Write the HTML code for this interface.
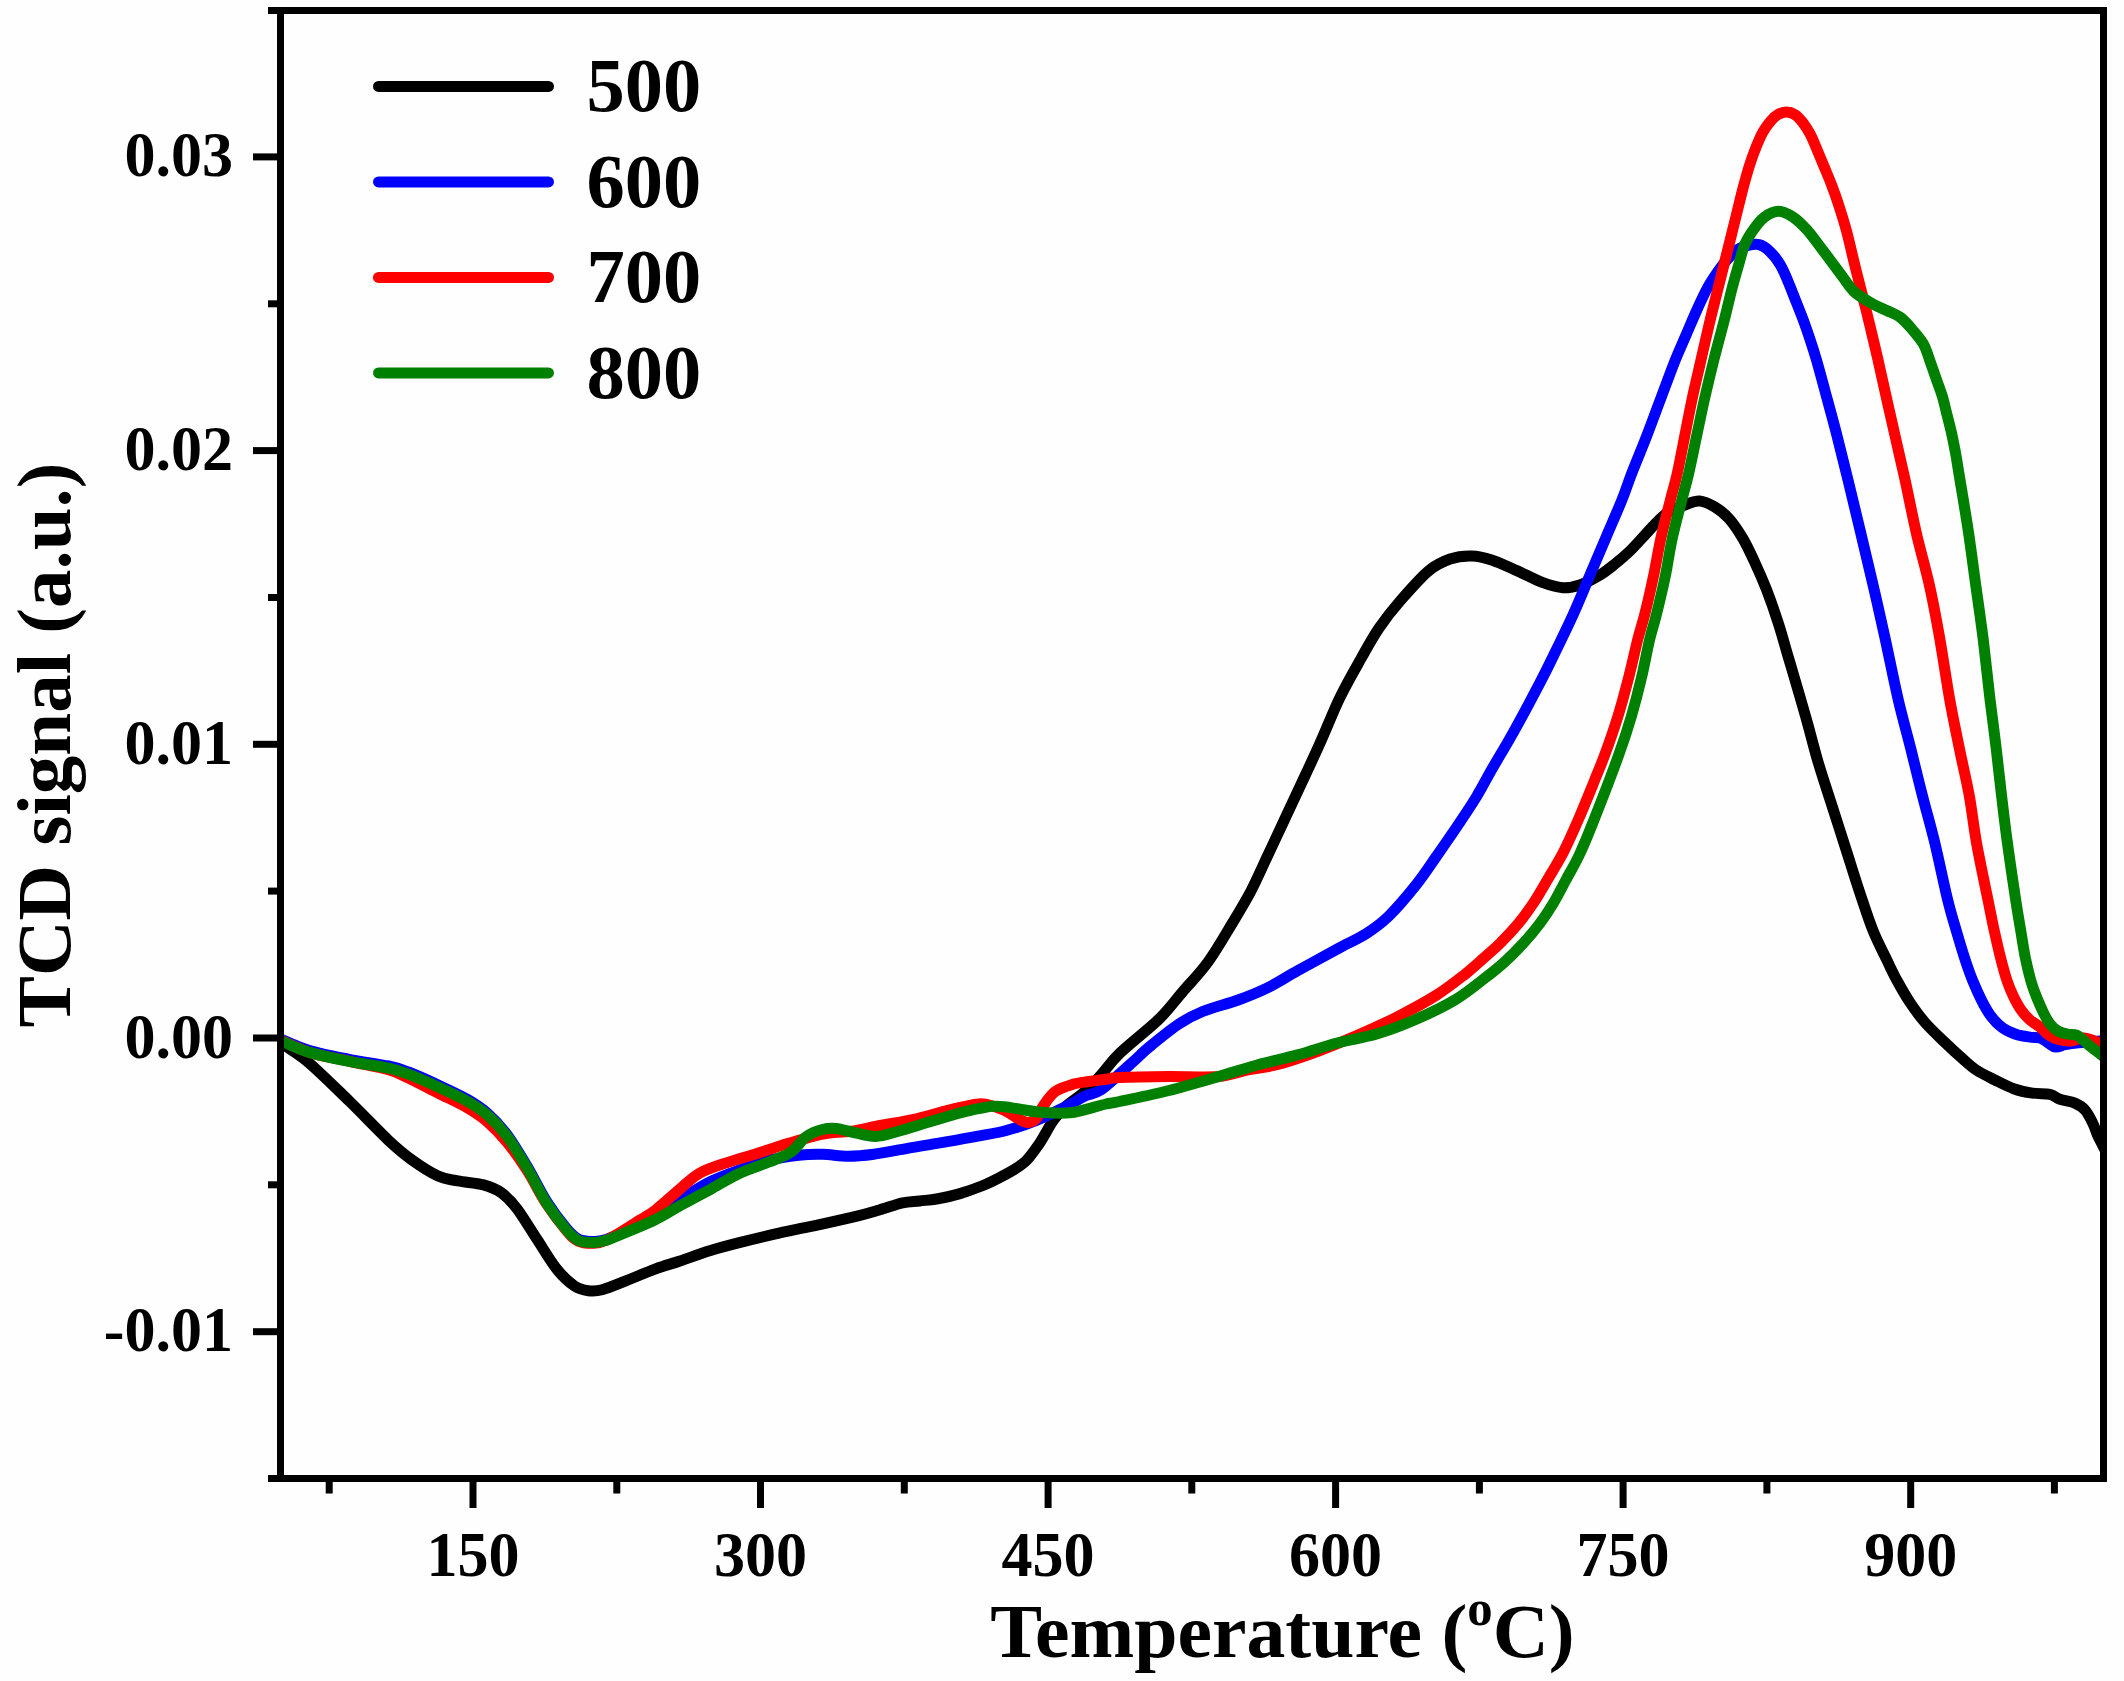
<!DOCTYPE html>
<html><head><meta charset="utf-8"><title>TCD signal</title>
<style>
html,body{margin:0;padding:0;background:#fefefe;}
body{width:2124px;height:1681px;overflow:hidden;}
svg{display:block;}
text{font-family:"Liberation Serif","Times New Roman",serif;font-weight:bold;fill:#000;}
</style></head><body>
<svg width="2124" height="1681" viewBox="0 0 2124 1681">
<rect width="2124" height="1681" fill="#fefefe"/>
<defs><clipPath id="c"><rect x="280.5" y="10.5" width="1823.0" height="1468.0"/></clipPath></defs>
<g clip-path="url(#c)" fill="none" stroke-width="11" stroke-linejoin="round" stroke-linecap="butt">
<path d="M280.5 1041.0C281.2 1041.8 280.0 1041.8 284.8 1045.5C289.6 1049.2 298.8 1054.1 309.5 1063.3C320.2 1072.5 335.9 1088.1 349.1 1100.9C362.3 1113.8 378.1 1130.5 388.6 1140.4C399.2 1150.3 404.1 1154.3 412.4 1160.2C420.6 1166.1 430.5 1172.5 438.1 1176.0C445.7 1179.5 450.3 1179.4 457.9 1180.9C465.5 1182.4 476.4 1182.9 483.6 1184.9C490.9 1186.9 495.8 1188.8 501.4 1192.8C507.0 1196.8 511.3 1201.2 517.2 1209.0C523.1 1216.8 530.4 1229.3 537.0 1239.3C543.6 1249.3 550.5 1261.2 556.7 1269.0C563.0 1276.8 569.2 1282.4 574.5 1286.0C579.8 1289.6 583.8 1290.1 588.4 1290.7C593.0 1291.3 596.0 1291.4 602.2 1289.7C608.5 1288.0 617.0 1284.3 625.9 1280.8C634.8 1277.3 646.6 1272.2 655.6 1268.9C664.6 1265.6 671.0 1264.0 680.0 1261.0C689.0 1258.0 699.8 1253.8 709.7 1250.8C719.6 1247.8 727.8 1245.6 739.3 1242.7C750.8 1239.8 765.7 1236.2 778.9 1233.2C792.1 1230.2 805.2 1227.7 818.4 1224.8C831.6 1221.9 847.7 1218.3 858.0 1215.8C868.3 1213.3 872.6 1211.8 880.0 1209.7C887.4 1207.6 896.0 1204.4 902.6 1202.9C909.2 1201.5 913.9 1201.7 919.5 1201.0C925.1 1200.3 929.9 1200.2 936.5 1199.0C943.1 1197.8 951.6 1196.1 959.1 1193.9C966.6 1191.7 975.1 1188.6 981.7 1186.0C988.3 1183.4 993.0 1181.0 998.6 1178.1C1004.2 1175.2 1010.9 1171.7 1015.6 1168.7C1020.3 1165.7 1023.1 1163.9 1026.9 1160.0C1030.7 1156.1 1035.0 1149.9 1038.2 1145.3C1041.4 1140.7 1043.5 1136.6 1046.1 1132.3C1048.7 1128.0 1050.6 1123.7 1054.0 1119.3C1057.4 1114.9 1061.5 1110.2 1066.4 1105.8C1071.3 1101.4 1077.8 1097.8 1083.4 1092.8C1089.1 1087.8 1094.3 1082.3 1100.3 1075.8C1106.3 1069.2 1109.7 1063.0 1119.5 1053.5C1129.3 1044.0 1148.5 1029.3 1159.1 1019.0C1169.6 1008.7 1174.6 1001.1 1182.8 991.6C1191.0 982.1 1199.8 973.4 1208.1 961.9C1216.4 950.4 1225.6 934.3 1232.8 922.4C1240.0 910.5 1245.2 901.9 1251.1 890.7C1256.9 879.5 1262.3 867.0 1267.9 855.1C1273.5 843.2 1276.1 837.7 1284.5 819.6C1292.9 801.5 1309.2 767.2 1318.4 746.8C1327.7 726.4 1332.8 712.2 1340.0 697.4C1347.2 682.6 1354.9 669.4 1361.4 657.9C1367.9 646.4 1372.5 637.8 1379.0 628.2C1385.5 618.6 1392.2 610.0 1400.5 600.5C1408.8 591.0 1420.2 577.8 1428.5 570.9C1436.8 564.0 1442.9 561.5 1450.1 559.0C1457.3 556.5 1464.9 555.8 1471.8 556.0C1478.7 556.2 1484.0 557.5 1491.6 560.0C1499.2 562.5 1508.7 567.1 1517.3 570.9C1525.9 574.7 1535.4 579.9 1543.0 582.7C1550.6 585.5 1556.5 587.4 1562.8 587.7C1569.1 588.0 1574.3 586.9 1580.6 584.7C1586.8 582.6 1594.5 578.3 1600.3 574.8C1606.1 571.3 1610.3 567.7 1615.2 563.8C1620.1 559.9 1624.7 556.0 1629.5 551.4C1634.3 546.8 1639.5 540.8 1643.8 536.2C1648.1 531.6 1651.2 527.8 1655.2 523.8C1659.2 519.8 1662.9 515.7 1668.0 512.5C1673.1 509.3 1680.8 506.4 1686.0 504.5C1691.2 502.6 1694.8 500.6 1699.5 501.0C1704.2 501.4 1709.6 503.9 1714.5 506.8C1719.4 509.7 1724.3 513.3 1729.0 518.6C1733.7 523.9 1738.5 531.1 1742.8 538.4C1747.1 545.7 1750.7 553.6 1754.7 562.2C1758.7 570.8 1762.6 579.6 1766.6 589.8C1770.5 600.0 1774.8 612.3 1778.4 623.5C1782.0 634.7 1785.0 645.9 1788.3 657.1C1791.6 668.3 1794.9 679.4 1798.2 690.7C1801.5 702.0 1804.7 713.0 1808.0 725.0C1811.3 737.0 1814.3 749.3 1818.3 762.8C1822.3 776.2 1827.4 791.4 1832.0 805.7C1836.6 820.0 1841.1 834.2 1845.7 848.5C1850.3 862.8 1854.8 877.7 1859.4 891.4C1864.0 905.1 1868.5 919.4 1873.1 930.8C1877.7 942.2 1882.8 951.6 1886.8 959.9C1890.8 968.2 1893.1 973.4 1897.0 980.5C1900.9 987.6 1905.3 995.5 1910.0 1002.5C1914.7 1009.5 1919.2 1015.8 1925.0 1022.5C1930.8 1029.2 1938.8 1036.5 1945.0 1042.5C1951.2 1048.5 1957.3 1054.1 1962.5 1058.7C1967.7 1063.3 1970.8 1066.5 1976.2 1070.0C1981.6 1073.5 1988.8 1076.9 1995.0 1080.0C2001.2 1083.1 2007.5 1086.5 2013.7 1088.7C2019.9 1090.9 2026.4 1092.2 2032.4 1093.1C2038.4 1094.0 2045.3 1093.3 2049.9 1094.3C2054.5 1095.3 2055.7 1097.8 2059.9 1099.3C2064.1 1100.8 2070.7 1101.3 2074.9 1103.1C2079.1 1104.9 2082.0 1106.7 2084.9 1109.9C2087.8 1113.1 2090.3 1118.2 2092.4 1122.4C2094.5 1126.6 2096.0 1131.6 2097.4 1134.9C2098.8 1138.2 2099.1 1138.2 2101.0 1142.0C2102.9 1145.8 2107.7 1155.1 2109.0 1157.8" stroke="#000000"/>
<path d="M280.5 1039.0C285.3 1040.9 298.1 1047.1 309.5 1050.5C320.9 1053.9 335.9 1056.7 349.1 1059.3C362.3 1061.9 378.7 1063.9 388.6 1066.0C398.5 1068.1 400.1 1068.8 408.4 1072.0C416.6 1075.2 428.2 1080.4 438.1 1085.0C448.0 1089.6 459.5 1094.8 467.7 1099.5C475.9 1104.2 480.9 1107.4 487.5 1113.3C494.1 1119.2 500.7 1126.2 507.3 1135.0C513.9 1143.8 520.5 1155.3 527.1 1166.4C533.7 1177.5 540.2 1191.4 546.8 1201.8C553.4 1212.2 561.3 1222.4 566.6 1228.6C571.9 1234.8 573.9 1237.0 578.5 1239.2C583.1 1241.4 589.7 1241.5 594.3 1241.5C598.9 1241.5 600.9 1241.2 606.2 1239.5C611.5 1237.8 617.7 1234.9 625.9 1231.0C634.1 1227.1 646.6 1221.2 655.6 1216.0C664.6 1210.8 671.0 1205.4 680.0 1199.7C689.0 1194.0 699.8 1186.9 709.7 1181.9C719.6 1177.0 729.4 1173.6 739.3 1170.0C749.2 1166.4 759.1 1162.7 769.0 1160.2C778.9 1157.7 789.7 1156.2 798.6 1155.2C807.5 1154.2 814.1 1154.0 822.4 1154.2C830.6 1154.4 839.5 1156.2 848.1 1156.2C856.7 1156.2 863.9 1155.5 873.8 1154.2C883.7 1152.9 896.8 1150.1 907.4 1148.3C918.0 1146.5 925.6 1145.4 937.1 1143.4C948.6 1141.4 965.1 1138.6 976.6 1136.4C988.1 1134.2 996.4 1133.1 1006.3 1130.5C1016.2 1127.9 1026.0 1124.5 1035.9 1120.6C1045.8 1116.6 1057.3 1110.9 1065.6 1106.8C1073.8 1102.7 1079.7 1098.6 1085.4 1095.9C1091.1 1093.2 1094.3 1094.2 1100.0 1090.5C1105.7 1086.8 1113.7 1079.1 1119.5 1074.0C1125.3 1068.9 1130.0 1064.5 1135.0 1060.0C1140.0 1055.5 1141.9 1053.0 1149.2 1047.0C1156.5 1041.0 1170.0 1029.9 1178.9 1024.0C1187.8 1018.1 1192.7 1015.5 1202.6 1011.5C1212.5 1007.5 1227.3 1004.0 1238.2 1000.0C1249.1 996.0 1258.0 992.5 1267.9 987.6C1277.8 982.7 1286.0 977.2 1297.5 970.8C1309.0 964.4 1325.6 955.4 1337.1 949.1C1348.6 942.9 1358.1 938.8 1366.7 933.3C1375.3 927.8 1380.2 924.5 1388.5 916.4C1396.8 908.3 1408.3 894.7 1416.2 884.8C1424.1 874.9 1429.4 866.5 1436.0 857.0C1442.6 847.5 1449.3 837.9 1456.0 828.0C1462.7 818.1 1470.0 807.3 1476.0 797.5C1482.0 787.7 1486.6 778.4 1492.0 769.0C1497.4 759.6 1503.8 749.2 1508.5 740.9C1513.2 732.6 1515.3 728.8 1520.5 719.3C1525.7 709.8 1534.3 693.5 1539.5 683.6C1544.7 673.7 1545.8 671.6 1551.4 660.0C1557.0 648.4 1567.0 628.2 1573.3 614.2C1579.6 600.2 1584.1 588.9 1589.5 576.2C1594.9 563.5 1600.3 550.8 1605.7 538.1C1611.1 525.4 1617.6 510.6 1621.9 500.0C1626.2 489.4 1627.3 484.8 1631.4 474.2C1635.5 463.6 1641.7 448.9 1646.6 436.2C1651.5 423.5 1656.1 410.8 1660.9 398.1C1665.7 385.4 1671.2 370.3 1675.3 360.0C1679.4 349.7 1681.9 344.6 1685.5 336.3C1689.1 328.0 1693.1 318.2 1696.8 310.1C1700.5 302.0 1704.0 294.2 1707.5 287.9C1711.0 281.6 1714.3 276.8 1717.5 272.2C1720.7 267.6 1723.2 264.1 1726.4 260.4C1729.6 256.7 1733.2 252.4 1736.8 249.9C1740.4 247.4 1744.3 246.4 1748.0 245.5C1751.7 244.6 1755.5 243.8 1759.1 244.7C1762.7 245.6 1766.1 247.9 1769.6 251.2C1773.1 254.5 1776.9 259.3 1780.0 264.3C1783.1 269.3 1785.5 275.4 1788.0 281.3C1790.5 287.2 1792.7 293.1 1795.3 299.7C1797.9 306.2 1801.0 313.9 1803.5 320.6C1806.0 327.4 1808.1 333.6 1810.3 340.2C1812.5 346.8 1813.8 350.7 1816.5 360.0C1819.2 369.3 1823.1 383.8 1826.4 396.2C1829.8 408.6 1833.0 420.2 1836.6 434.2C1840.2 448.2 1844.0 463.6 1848.0 480.0C1852.0 496.4 1856.4 514.9 1860.6 532.4C1864.8 549.9 1869.0 567.3 1873.0 584.7C1877.0 602.1 1880.6 617.8 1884.8 637.0C1889.0 656.2 1894.0 681.6 1898.3 700.0C1902.6 718.4 1906.5 731.7 1910.5 747.6C1914.5 763.5 1918.2 779.3 1922.3 795.2C1926.3 811.1 1930.6 825.3 1934.8 842.8C1939.0 860.3 1944.2 885.7 1947.7 900.0C1951.2 914.3 1952.9 919.1 1955.7 928.6C1958.5 938.1 1961.5 948.4 1964.3 957.1C1967.1 965.8 1969.9 973.8 1972.8 980.9C1975.7 988.0 1978.4 994.1 1981.4 1000.0C1984.4 1005.9 1987.4 1011.5 1990.9 1016.1C1994.4 1020.7 1998.2 1024.6 2002.3 1027.6C2006.4 1030.6 2011.1 1032.6 2015.7 1034.2C2020.3 1035.8 2025.9 1036.5 2030.0 1037.1C2034.1 1037.7 2037.4 1037.0 2040.4 1038.0C2043.4 1039.0 2045.5 1041.3 2048.0 1042.8C2050.6 1044.3 2052.8 1046.8 2055.7 1047.1C2058.6 1047.4 2061.4 1045.4 2065.2 1044.7C2069.0 1044.0 2072.5 1043.4 2078.5 1042.8C2084.5 1042.2 2095.9 1041.3 2101.0 1040.9C2106.1 1040.5 2107.7 1040.3 2109.0 1040.2" stroke="#0000ff"/>
<path d="M280.5 1040.0C285.3 1042.1 298.1 1048.9 309.5 1052.4C320.9 1056.0 335.9 1058.4 349.1 1061.3C362.3 1064.2 378.7 1067.0 388.6 1069.8C398.5 1072.6 400.1 1074.1 408.4 1078.0C416.6 1081.9 428.2 1088.0 438.1 1093.0C448.0 1098.0 459.5 1103.2 467.7 1108.0C475.9 1112.8 480.9 1116.0 487.5 1121.8C494.1 1127.5 500.7 1134.4 507.3 1142.5C513.9 1150.6 520.5 1160.1 527.1 1170.4C533.7 1180.7 540.2 1194.3 546.8 1204.3C553.4 1214.3 561.3 1224.4 566.6 1230.6C571.9 1236.8 573.9 1239.1 578.5 1241.2C583.1 1243.3 589.7 1243.4 594.3 1243.2C598.9 1243.0 600.9 1242.7 606.2 1240.3C611.5 1237.9 620.3 1232.4 625.9 1229.0C631.5 1225.6 635.0 1223.2 640.0 1220.0C645.0 1216.8 648.9 1215.2 655.6 1210.0C662.3 1204.8 672.6 1195.2 680.0 1189.0C687.4 1182.8 691.9 1177.5 700.0 1173.0C708.1 1168.5 719.1 1165.3 728.6 1162.1C738.1 1158.8 747.6 1156.5 757.1 1153.5C766.6 1150.5 778.6 1146.2 785.7 1144.0C792.9 1141.8 794.6 1141.5 800.0 1140.0C805.4 1138.5 812.3 1136.2 818.0 1135.0C823.7 1133.8 828.0 1133.3 834.0 1132.6C840.0 1131.9 846.7 1132.1 854.0 1131.0C861.3 1129.9 867.7 1128.0 877.7 1126.0C887.7 1124.0 902.2 1121.9 913.9 1119.3C925.6 1116.7 937.4 1112.8 947.8 1110.3C958.1 1107.8 969.4 1105.0 976.0 1104.1C982.6 1103.1 982.6 1103.6 987.3 1104.6C992.0 1105.6 999.6 1108.2 1004.3 1110.3C1009.0 1112.4 1011.8 1115.1 1015.6 1117.1C1019.4 1119.1 1023.5 1122.1 1026.9 1122.4C1030.3 1122.7 1033.2 1121.9 1036.0 1119.0C1038.8 1116.1 1040.6 1109.8 1043.8 1105.2C1047.0 1100.6 1050.4 1095.0 1055.1 1091.6C1059.8 1088.1 1066.4 1086.2 1072.1 1084.5C1077.8 1082.8 1083.3 1082.4 1089.0 1081.5C1094.7 1080.6 1100.9 1079.9 1106.0 1079.2C1111.1 1078.5 1109.0 1078.0 1119.5 1077.6C1130.0 1077.2 1152.5 1076.8 1169.0 1076.6C1185.5 1076.4 1205.2 1077.7 1218.4 1076.6C1231.6 1075.5 1238.1 1071.8 1248.0 1069.8C1257.9 1067.8 1266.2 1067.5 1277.7 1064.5C1289.2 1061.5 1304.1 1056.3 1317.3 1051.5C1330.5 1046.7 1343.6 1041.2 1356.8 1035.5C1370.0 1029.8 1383.2 1024.0 1396.4 1017.3C1409.6 1010.6 1424.4 1002.8 1435.9 995.5C1447.4 988.2 1458.0 979.7 1465.6 973.8C1473.2 967.9 1475.7 965.2 1481.4 960.1C1487.1 955.0 1493.8 949.4 1500.0 943.3C1506.2 937.2 1513.0 930.0 1518.6 923.3C1524.1 916.6 1528.5 910.5 1533.3 903.3C1538.1 896.1 1542.3 888.5 1547.3 880.0C1552.3 871.5 1558.2 862.3 1563.5 852.0C1568.8 841.7 1573.8 830.1 1579.0 818.1C1584.2 806.1 1590.4 790.6 1594.7 780.0C1599.0 769.4 1601.1 764.8 1605.0 754.2C1608.9 743.6 1614.1 728.9 1618.0 716.2C1621.9 703.5 1625.2 690.8 1628.5 678.1C1631.8 665.4 1634.9 650.6 1637.6 640.0C1640.3 629.4 1642.1 624.8 1644.8 614.2C1647.5 603.6 1650.8 588.9 1653.5 576.2C1656.2 563.5 1658.1 550.8 1660.9 538.1C1663.7 525.4 1667.7 510.6 1670.4 500.0C1673.1 489.4 1674.7 484.8 1677.1 474.2C1679.5 463.6 1682.2 448.9 1684.7 436.2C1687.2 423.5 1689.6 410.8 1692.3 398.1C1695.0 385.4 1698.2 372.5 1701.0 360.0C1703.8 347.5 1706.9 333.7 1709.4 323.2C1711.9 312.7 1713.7 305.7 1715.9 297.0C1718.1 288.3 1720.2 279.6 1722.4 270.9C1724.6 262.2 1726.8 253.4 1729.0 244.7C1731.2 236.0 1733.1 228.0 1735.5 218.5C1737.9 209.0 1740.9 196.2 1743.2 187.5C1745.5 178.8 1747.1 173.0 1749.2 166.3C1751.3 159.7 1753.7 153.2 1755.9 147.6C1758.2 141.9 1760.3 136.8 1762.7 132.4C1765.1 128.0 1767.8 124.4 1770.3 121.4C1772.8 118.4 1775.3 116.2 1778.0 114.6C1780.7 113.0 1783.6 112.0 1786.4 112.0C1789.2 112.0 1792.2 112.9 1794.9 114.6C1797.6 116.3 1800.0 119.0 1802.5 122.2C1805.0 125.5 1807.8 129.6 1810.2 134.1C1812.6 138.6 1814.6 143.9 1816.9 149.3C1819.2 154.7 1821.5 160.2 1824.0 166.3C1826.5 172.4 1829.5 179.4 1832.0 186.0C1834.5 192.6 1836.6 198.5 1839.0 206.0C1841.4 213.5 1844.0 221.6 1846.5 230.9C1849.0 240.2 1851.5 251.6 1854.0 261.9C1856.5 272.2 1859.1 282.1 1861.8 292.8C1864.5 303.5 1867.4 315.1 1870.0 326.0C1872.6 336.9 1874.9 346.4 1877.6 358.1C1880.3 369.8 1883.2 383.5 1886.1 396.2C1888.9 408.9 1891.5 420.2 1894.7 434.2C1897.9 448.2 1901.5 463.6 1905.1 480.0C1908.7 496.4 1912.2 514.9 1916.2 532.4C1920.2 549.9 1925.4 567.3 1929.3 584.7C1933.2 602.1 1936.1 617.8 1939.5 637.0C1942.9 656.2 1946.5 681.6 1949.8 700.0C1953.1 718.4 1956.0 731.7 1959.2 747.6C1962.4 763.5 1966.3 779.3 1969.2 795.2C1972.1 811.1 1973.4 825.3 1976.5 842.8C1979.6 860.3 1985.1 885.7 1988.0 900.0C1990.9 914.3 1991.7 919.1 1993.8 928.6C1995.9 938.1 1998.2 948.4 2000.4 957.1C2002.6 965.8 2004.9 974.2 2007.1 980.9C2009.3 987.6 2011.4 992.2 2013.8 997.1C2016.2 1002.0 2018.7 1006.6 2021.4 1010.4C2024.1 1014.2 2027.0 1017.3 2030.0 1020.0C2033.0 1022.7 2036.3 1024.1 2039.5 1026.6C2042.7 1029.1 2045.8 1033.0 2049.0 1035.2C2052.2 1037.4 2054.8 1038.5 2058.5 1039.5C2062.2 1040.5 2066.6 1041.2 2070.9 1040.9C2075.2 1040.7 2079.2 1037.6 2084.2 1038.0C2089.2 1038.4 2096.9 1042.1 2101.0 1043.5C2105.1 1044.9 2107.7 1045.7 2109.0 1046.1" stroke="#ff0000"/>
<path d="M280.5 1040.0C281.2 1040.4 280.0 1040.4 284.8 1042.5C289.6 1044.6 298.8 1049.3 309.5 1052.4C320.2 1055.5 335.9 1058.7 349.1 1061.3C362.3 1063.9 378.7 1066.0 388.6 1068.2C398.5 1070.4 400.1 1071.1 408.4 1074.2C416.6 1077.3 428.2 1082.5 438.1 1087.0C448.0 1091.5 459.5 1096.8 467.7 1101.5C475.9 1106.2 480.9 1109.2 487.5 1115.0C494.1 1120.8 500.7 1127.7 507.3 1136.5C513.9 1145.3 520.5 1156.8 527.1 1168.0C533.7 1179.2 540.2 1193.2 546.8 1203.5C553.4 1213.8 561.3 1223.8 566.6 1230.0C571.9 1236.2 573.9 1238.4 578.5 1240.5C583.1 1242.6 589.7 1242.5 594.3 1242.5C598.9 1242.5 600.9 1242.0 606.2 1240.3C611.5 1238.6 617.7 1235.9 625.9 1232.4C634.1 1228.9 646.6 1224.0 655.6 1219.5C664.6 1215.0 671.0 1210.7 680.0 1205.7C689.0 1200.8 699.8 1195.2 709.7 1189.8C719.6 1184.4 729.4 1178.1 739.3 1173.5C749.2 1168.9 760.4 1165.5 769.0 1162.0C777.6 1158.5 784.4 1156.6 790.7 1152.3C797.0 1148.0 801.3 1140.2 806.6 1136.4C811.9 1132.6 817.5 1130.8 822.4 1129.5C827.3 1128.2 830.9 1128.0 836.2 1128.5C841.5 1129.0 847.4 1131.2 854.0 1132.5C860.6 1133.8 868.5 1136.6 875.8 1136.4C883.0 1136.2 888.9 1133.8 897.5 1131.5C906.1 1129.2 917.3 1125.6 927.2 1122.6C937.1 1119.6 949.6 1115.8 956.8 1113.7C964.0 1111.7 966.2 1111.2 970.4 1110.3C974.6 1109.3 978.2 1108.7 982.0 1108.0C985.8 1107.3 989.3 1106.5 993.0 1106.3C996.7 1106.1 999.6 1106.2 1004.3 1106.7C1009.0 1107.2 1015.6 1108.5 1021.2 1109.4C1026.9 1110.3 1032.6 1111.4 1038.2 1112.0C1043.8 1112.6 1049.4 1113.0 1055.1 1113.1C1060.8 1113.2 1066.4 1113.2 1072.1 1112.5C1077.8 1111.8 1083.3 1110.0 1089.0 1108.6C1094.7 1107.2 1100.9 1105.2 1106.0 1104.0C1111.1 1102.8 1109.0 1103.8 1119.5 1101.5C1130.0 1099.2 1152.5 1094.7 1169.0 1090.5C1185.5 1086.3 1203.6 1080.9 1218.4 1076.6C1233.2 1072.3 1244.8 1068.4 1258.0 1064.8C1271.2 1061.2 1284.3 1058.5 1297.5 1054.9C1310.7 1051.3 1323.9 1046.5 1337.1 1043.0C1350.3 1039.5 1363.4 1038.0 1376.6 1034.1C1389.8 1030.1 1403.0 1025.1 1416.2 1019.3C1429.4 1013.5 1444.2 1006.4 1455.7 999.5C1467.2 992.6 1477.1 984.1 1485.4 977.7C1493.7 971.3 1499.0 967.0 1505.3 961.3C1511.6 955.6 1517.5 949.6 1523.3 943.3C1529.1 937.0 1535.0 930.0 1540.0 923.3C1545.0 916.6 1549.0 910.5 1553.3 903.3C1557.6 896.1 1561.6 888.0 1565.9 880.0C1570.2 872.0 1574.5 865.0 1579.0 855.5C1583.5 846.0 1586.1 839.8 1592.8 822.9C1599.5 806.0 1612.6 772.0 1619.0 754.2C1625.4 736.4 1627.7 728.9 1631.4 716.2C1635.1 703.5 1638.4 690.8 1641.4 678.1C1644.4 665.4 1647.0 650.6 1649.5 640.0C1652.0 629.4 1653.9 624.8 1656.5 614.2C1659.1 603.6 1662.7 588.9 1665.3 576.2C1667.9 563.5 1669.5 550.8 1672.3 538.1C1675.0 525.4 1679.1 510.6 1681.8 500.0C1684.5 489.4 1686.0 484.8 1688.5 474.2C1691.0 463.6 1693.9 448.9 1696.6 436.2C1699.3 423.5 1701.8 410.8 1704.7 398.1C1707.6 385.4 1710.7 372.5 1713.8 360.0C1716.9 347.5 1720.5 334.8 1723.5 323.2C1726.5 311.6 1729.0 300.3 1731.5 290.5C1734.0 280.7 1736.6 271.9 1738.8 264.3C1741.0 256.7 1742.2 250.6 1744.7 244.7C1747.2 238.8 1750.6 233.6 1753.9 229.0C1757.2 224.4 1760.2 220.1 1764.3 217.2C1768.4 214.2 1773.9 211.3 1778.7 211.3C1783.5 211.3 1788.5 214.2 1793.1 217.2C1797.7 220.1 1802.2 224.8 1806.2 229.0C1810.2 233.2 1813.0 237.2 1817.0 242.5C1821.0 247.8 1826.1 254.6 1830.5 260.5C1834.9 266.4 1839.4 272.7 1843.5 278.0C1847.6 283.3 1850.2 288.2 1855.1 292.5C1860.0 296.8 1867.6 301.0 1872.9 304.0C1878.2 307.0 1882.1 308.2 1886.7 310.5C1891.3 312.8 1896.1 314.1 1900.6 317.5C1905.1 320.9 1909.7 326.6 1913.5 331.0C1917.3 335.4 1920.7 339.3 1923.3 343.8C1925.9 348.3 1927.0 352.6 1929.0 358.1C1931.0 363.7 1933.4 370.8 1935.6 377.1C1937.8 383.5 1940.4 389.9 1942.3 396.2C1944.2 402.5 1945.5 408.9 1947.1 415.2C1948.7 421.5 1950.4 427.8 1951.8 434.2C1953.2 440.6 1954.2 445.7 1955.6 453.3C1957.0 460.9 1957.8 466.8 1960.0 480.0C1962.2 493.2 1965.9 514.9 1968.5 532.4C1971.1 549.9 1973.3 567.3 1975.7 584.7C1978.1 602.1 1980.5 617.8 1982.9 637.0C1985.3 656.2 1987.9 681.6 1990.1 700.0C1992.3 718.4 1994.2 731.7 1996.1 747.6C1998.0 763.5 1999.6 779.3 2001.5 795.2C2003.4 811.1 2005.0 825.3 2007.4 842.8C2009.8 860.3 2013.5 885.7 2015.7 900.0C2017.9 914.3 2018.8 919.1 2020.4 928.6C2022.0 938.1 2023.5 948.4 2025.2 957.1C2027.0 965.8 2029.0 974.2 2030.9 980.9C2032.8 987.6 2034.5 991.9 2036.6 997.1C2038.7 1002.3 2041.1 1007.8 2043.3 1012.3C2045.5 1016.8 2047.4 1020.6 2049.9 1023.8C2052.4 1027.0 2055.5 1029.7 2058.5 1031.4C2061.5 1033.1 2065.0 1033.6 2068.0 1034.2C2071.0 1034.8 2073.9 1034.1 2076.6 1035.2C2079.3 1036.3 2081.7 1038.9 2084.2 1040.9C2086.7 1043.0 2089.0 1045.2 2091.8 1047.5C2094.6 1049.8 2098.1 1052.3 2101.0 1054.5C2103.9 1056.7 2107.7 1059.6 2109.0 1060.6" stroke="#008000"/>
</g>
<g stroke="#000" stroke-width="7" fill="none">
<line x1="329.2" y1="1478.5" x2="329.2" y2="1493.5"/>
<line x1="473.0" y1="1478.5" x2="473.0" y2="1508.0"/>
<line x1="616.8" y1="1478.5" x2="616.8" y2="1493.5"/>
<line x1="760.5" y1="1478.5" x2="760.5" y2="1508.0"/>
<line x1="904.3" y1="1478.5" x2="904.3" y2="1493.5"/>
<line x1="1048.1" y1="1478.5" x2="1048.1" y2="1508.0"/>
<line x1="1191.8" y1="1478.5" x2="1191.8" y2="1493.5"/>
<line x1="1335.6" y1="1478.5" x2="1335.6" y2="1508.0"/>
<line x1="1479.4" y1="1478.5" x2="1479.4" y2="1493.5"/>
<line x1="1623.1" y1="1478.5" x2="1623.1" y2="1508.0"/>
<line x1="1766.9" y1="1478.5" x2="1766.9" y2="1493.5"/>
<line x1="1910.7" y1="1478.5" x2="1910.7" y2="1508.0"/>
<line x1="2054.4" y1="1478.5" x2="2054.4" y2="1493.5"/>
<line x1="280.5" y1="1331.7" x2="253.0" y2="1331.7"/>
<line x1="280.5" y1="1184.8" x2="268.0" y2="1184.8"/>
<line x1="280.5" y1="1038.0" x2="253.0" y2="1038.0"/>
<line x1="280.5" y1="891.1" x2="268.0" y2="891.1"/>
<line x1="280.5" y1="744.3" x2="253.0" y2="744.3"/>
<line x1="280.5" y1="597.5" x2="268.0" y2="597.5"/>
<line x1="280.5" y1="450.6" x2="253.0" y2="450.6"/>
<line x1="280.5" y1="303.8" x2="268.0" y2="303.8"/>
<line x1="280.5" y1="156.9" x2="253.0" y2="156.9"/>
<line x1="268" y1="10.5" x2="2107.0" y2="10.5"/>
<line x1="268" y1="1478.5" x2="2107.0" y2="1478.5"/>
<line x1="280.5" y1="10.5" x2="280.5" y2="1478.5"/>
<line x1="2103.5" y1="10.5" x2="2103.5" y2="1478.5"/>
</g>
<g font-size="64">
<text transform="translate(473.0,1576) scale(0.97,1)" text-anchor="middle">150</text>
<text transform="translate(760.5,1576) scale(0.97,1)" text-anchor="middle">300</text>
<text transform="translate(1048.1,1576) scale(0.97,1)" text-anchor="middle">450</text>
<text transform="translate(1335.6,1576) scale(0.97,1)" text-anchor="middle">600</text>
<text transform="translate(1623.1,1576) scale(0.97,1)" text-anchor="middle">750</text>
<text transform="translate(1910.7,1576) scale(0.97,1)" text-anchor="middle">900</text>
<text transform="translate(233,176.4) scale(0.97,1)" text-anchor="end">0.03</text>
<text transform="translate(233,470.1) scale(0.97,1)" text-anchor="end">0.02</text>
<text transform="translate(233,763.8) scale(0.97,1)" text-anchor="end">0.01</text>
<text transform="translate(233,1057.5) scale(0.97,1)" text-anchor="end">0.00</text>
<text transform="translate(233,1351.2) scale(0.97,1)" text-anchor="end">-0.01</text>
</g>
<line x1="378.5" y1="86.4" x2="548.5" y2="86.4" stroke="#000000" stroke-width="11" stroke-linecap="round"/>
<text x="586.5" y="111.4" font-size="76.5">500</text>
<line x1="378.5" y1="181.9" x2="548.5" y2="181.9" stroke="#0000ff" stroke-width="11" stroke-linecap="round"/>
<text x="586.5" y="206.9" font-size="76.5">600</text>
<line x1="378.5" y1="277.4" x2="548.5" y2="277.4" stroke="#ff0000" stroke-width="11" stroke-linecap="round"/>
<text x="586.5" y="302.4" font-size="76.5">700</text>
<line x1="378.5" y1="372.9" x2="548.5" y2="372.9" stroke="#008000" stroke-width="11" stroke-linecap="round"/>
<text x="586.5" y="397.9" font-size="76.5">800</text>

<text transform="translate(1282.5,1657) scale(1.016,1)" font-size="76.5" text-anchor="middle">Temperature (<tspan font-size="50" dy="-32">o</tspan><tspan dy="32">C)</tspan></text>
<text transform="translate(70,745) rotate(-90)" font-size="77" text-anchor="middle">TCD signal (a.u.)</text>
</svg>
</body></html>
